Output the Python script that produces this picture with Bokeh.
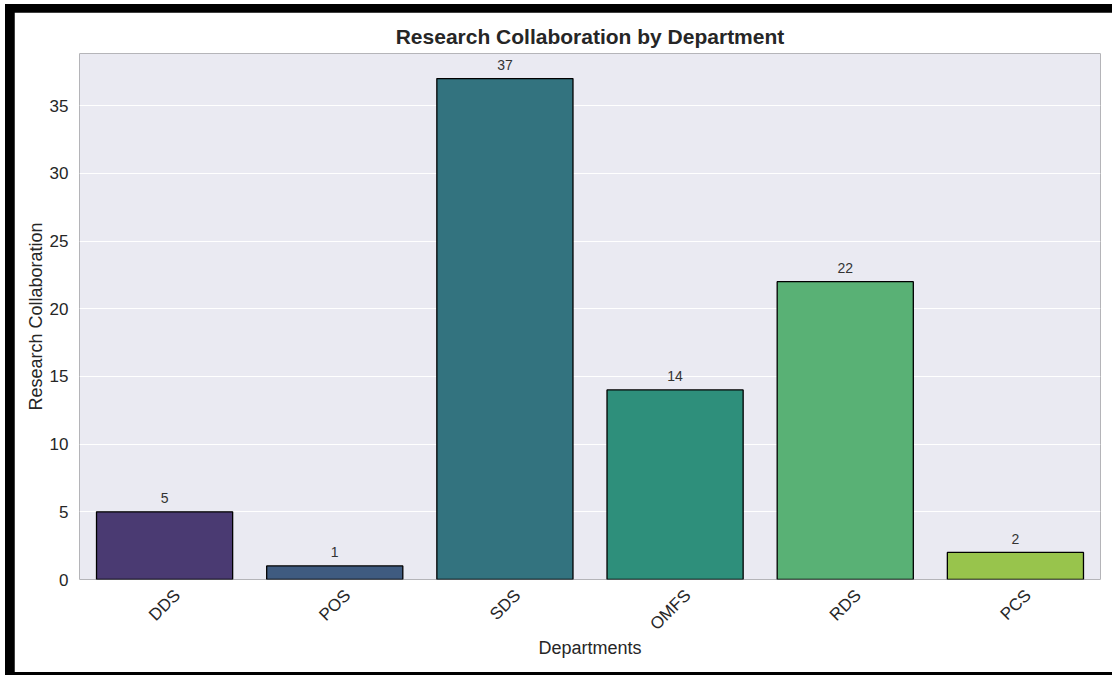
from math import pi

from bokeh.core.properties import value
from bokeh.embed import file_html
from bokeh.layouts import column
from bokeh.models import (ColumnDataSource, FixedTicker, LinearAxis, Range1d)
from bokeh.plotting import figure
from bokeh.resources import INLINE

# Research collaboration counts per department
departments = ["DDS", "POS", "SDS", "OMFS", "RDS", "PCS"]
collaborations = [5, 1, 37, 14, 22, 2]
bar_colors = ["#4a3a72", "#3f5b80", "#33737f", "#2e8f7b", "#59b175", "#98c44c"]
y_ticks = [0, 5, 10, 15, 20, 25, 30, 35]

FONT = "Liberation Sans"
TEXT = "#262626"

n = len(departments)
slots = list(range(n))

source = ColumnDataSource(dict(
    slot=slots,
    dept=departments,
    value=collaborations,
    color=bar_colors,
    label_y=[v + 1 for v in collaborations],
    label=[str(v) for v in collaborations],
))

p = figure(
    x_range=Range1d(-0.5, n - 0.5),
    y_range=Range1d(0, max(collaborations) * 1.05),
    width=1098, height=660,
    min_border_left=65, min_border_right=12,
    min_border_top=41, min_border_bottom=93,
    output_backend="svg", toolbar_location=None,
    title="Research Collaboration by Department",
    x_axis_location=None,
    margin=(8, 0, 3, 9),
)

p.background_fill_color = "#eaeaf2"
p.border_fill_color = "white"
p.outline_line_color = None

p.title.align = "center"
p.title.text_font = FONT
p.title.text_font_size = "21px"
p.title.text_font_style = "bold"
p.title.text_color = TEXT
p.title.standoff = 12

p.vbar(x="slot", top="value", width=0.8, bottom=0, source=source,
       fill_color="color", line_color="black", line_width=1.3)

p.text(x="slot", y="label_y", text="label", source=source,
       text_align="center", text_baseline="alphabetic",
       text_font_size="14px", text_color="#333333", text_font=value(FONT))

p.xgrid.grid_line_color = None
p.ygrid.grid_line_color = "white"
p.ygrid.grid_line_width = 1.2
p.ygrid.ticker = FixedTicker(ticks=y_ticks)

# Department names: a slightly offset copy of the slot scale so the rotated
# names sit centred under their bars
label_shift = 0.075
p.extra_x_ranges = {"names": Range1d(-0.5 - label_shift, n - 0.5 - label_shift)}
name_axis = LinearAxis(x_range_name="names",
                       ticker=FixedTicker(ticks=slots),
                       major_label_overrides={i: d for i, d in zip(slots, departments)})
p.add_layout(name_axis, "below")

for ax in (name_axis, p.yaxis[0]):
    ax.axis_line_color = None
    ax.major_tick_line_color = None
    ax.minor_tick_line_color = None
    ax.major_label_text_font = FONT
    ax.major_label_text_font_size = "17px"
    ax.major_label_text_color = TEXT
    ax.axis_label_text_font = FONT
    ax.axis_label_text_font_size = "18px"
    ax.axis_label_text_font_style = "normal"
    ax.axis_label_text_color = TEXT

p.yaxis.ticker = FixedTicker(ticks=y_ticks)
p.yaxis.major_label_standoff = 5
p.yaxis.axis_label = "Research Collaboration"
p.yaxis.axis_label_standoff = 1

name_axis.major_label_orientation = pi / 4
name_axis.major_label_standoff = 7
name_axis.axis_label = "Departments"
name_axis.axis_label_standoff = -6

page = column(p, styles={"background-color": "black"}, margin=(4, 0, 0, 5))

open("out.html", "w").write(file_html(page, INLINE))
